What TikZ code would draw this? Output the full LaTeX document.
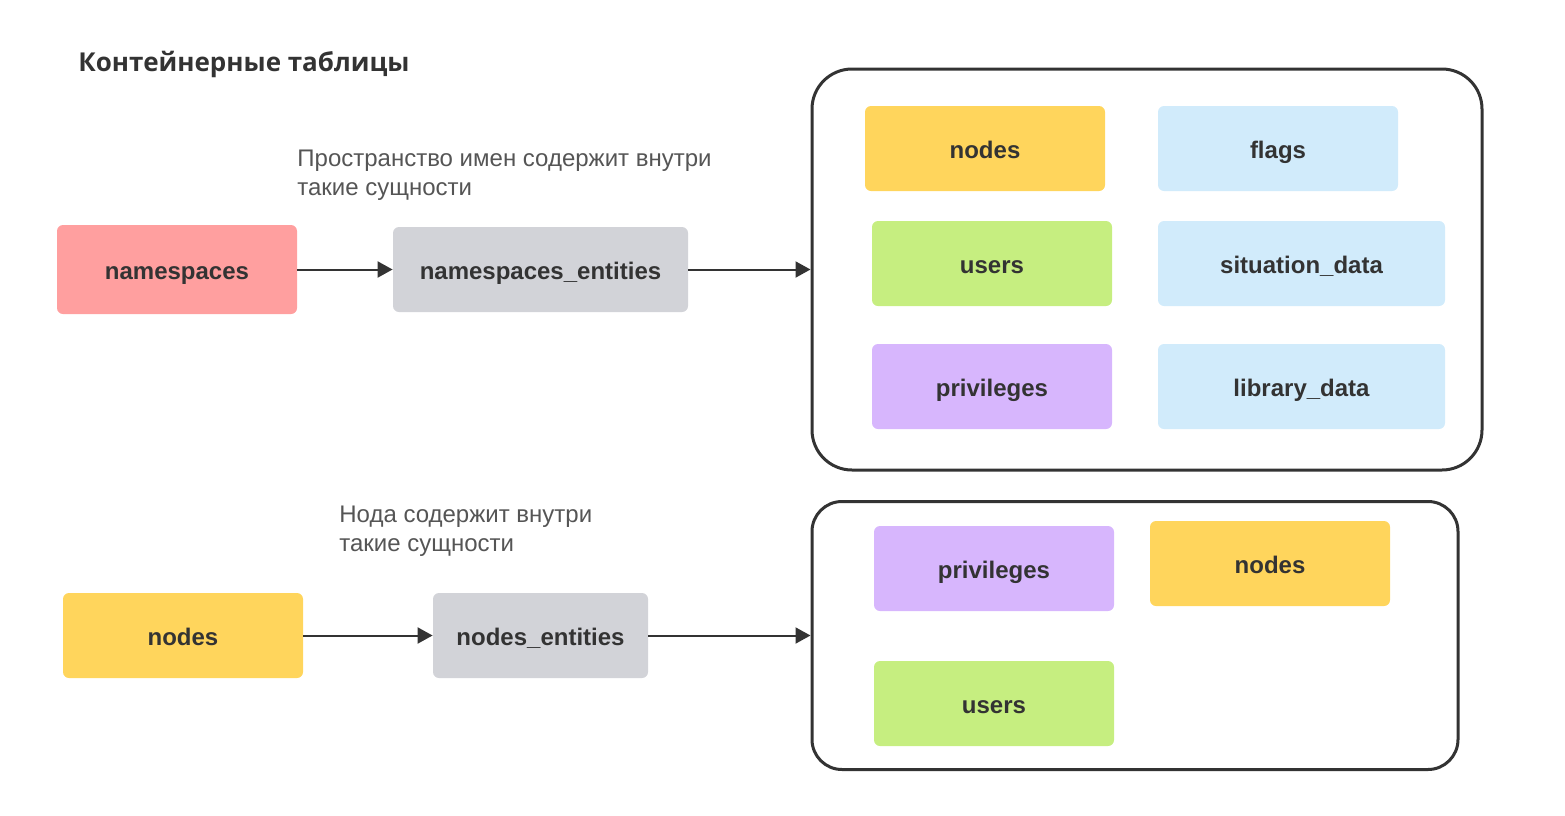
\documentclass[tikz,border=0pt]{standalone}
\usepackage{fontspec}
\setmainfont{Liberation Sans}
\newfontfamily\titlefont{Open Sans}
\usetikzlibrary{arrows.meta}
\definecolor{txt}{HTML}{333333}
\definecolor{note}{HTML}{555555}
\definecolor{cpink}{HTML}{FF9F9F}
\definecolor{cgray}{HTML}{D2D3D8}
\definecolor{cyellow}{HTML}{FFD55C}
\definecolor{cblue}{HTML}{D1EBFB}
\definecolor{cgreen}{HTML}{C6EE80}
\definecolor{cpurple}{HTML}{D7B6FD}
\definecolor{cline}{HTML}{333333}
\tikzset{
  box/.style={rounded corners=3pt, inner sep=0pt, text height=11pt, text depth=1.5pt, font=\fontsize{12}{14}\selectfont\bfseries, text=txt},
  container/.style={draw=cline, line width=1.5pt, inner sep=0pt},
  conn/.style={draw=cline, line width=1pt, -{Triangle[length=7.5pt,width=8pt]}},
  notetext/.style={font=\fontsize{12}{14.5}\selectfont, text=note, align=left, anchor=north west, inner sep=0pt},
}
\begin{document}
\begin{tikzpicture}[x=0.5pt,y=-0.5pt]
\useasboundingbox (0,0) rectangle (1565,815);
% title
\node[anchor=west, inner sep=0pt, text=txt, font=\titlefont\fontsize{13}{15}\selectfont\bfseries] (title) at (78,64) {Контейнерные таблицы};
% containers
\node[container, rounded corners=20pt, minimum width=335pt, minimum height=200.5pt] (c1) at (1147,269.5) {};
\node[container, rounded corners=15pt, minimum width=323pt, minimum height=134pt] (c2) at (1135,635.5) {};
% left column
\node[box, fill=cpink, minimum width=120pt, minimum height=44.5pt] (ns) at (177,269.5) {namespaces};
\node[box, fill=cgray, minimum width=147.5pt, minimum height=42.5pt] (nse) at (540.5,269.5) {namespaces\_entities};
\node[box, fill=cyellow, minimum width=120pt, minimum height=42.5pt] (nd) at (183,635.5) {nodes};
\node[box, fill=cgray, minimum width=107.5pt, minimum height=42.5pt] (nde) at (540.5,635.5) {nodes\_entities};
% container 1 contents
\node[box, fill=cyellow, minimum width=120pt, minimum height=42.5pt] (a1) at (985,148.5) {nodes};
\node[box, fill=cblue, minimum width=120pt, minimum height=42.5pt] (a2) at (1278,148.5) {flags};
\node[box, fill=cgreen, minimum width=120pt, minimum height=42.5pt] (a3) at (992,263.5) {users};
\node[box, fill=cblue, minimum width=143.5pt, minimum height=42.5pt] (a4) at (1301.5,263.5) {situation\_data};
\node[box, fill=cpurple, minimum width=120pt, minimum height=42.5pt] (a5) at (992,386.5) {privileges};
\node[box, fill=cblue, minimum width=143.5pt, minimum height=42.5pt] (a6) at (1301.5,386.5) {library\_data};
% container 2 contents
\node[box, fill=cpurple, minimum width=120pt, minimum height=42.5pt] (b1) at (994,568.5) {privileges};
\node[box, fill=cyellow, minimum width=120pt, minimum height=42.5pt] (b2) at (1270,563.5) {nodes};
\node[box, fill=cgreen, minimum width=120pt, minimum height=42.5pt] (b3) at (994,703.5) {users};
% notes
\node[notetext] (n1) at (297,150) {Пространство имен содержит внутри\\такие сущности};
\node[notetext] (n2) at (339,506) {Нода содержит внутри\\такие сущности};
% connectors
\draw[conn] (ns.east) -- (nse.west);
\draw[conn] (nse.east) -- (c1.west);
\draw[conn] (nd.east) -- (nde.west);
\draw[conn] (nde.east) -- (c2.west);
\end{tikzpicture}
\end{document}
